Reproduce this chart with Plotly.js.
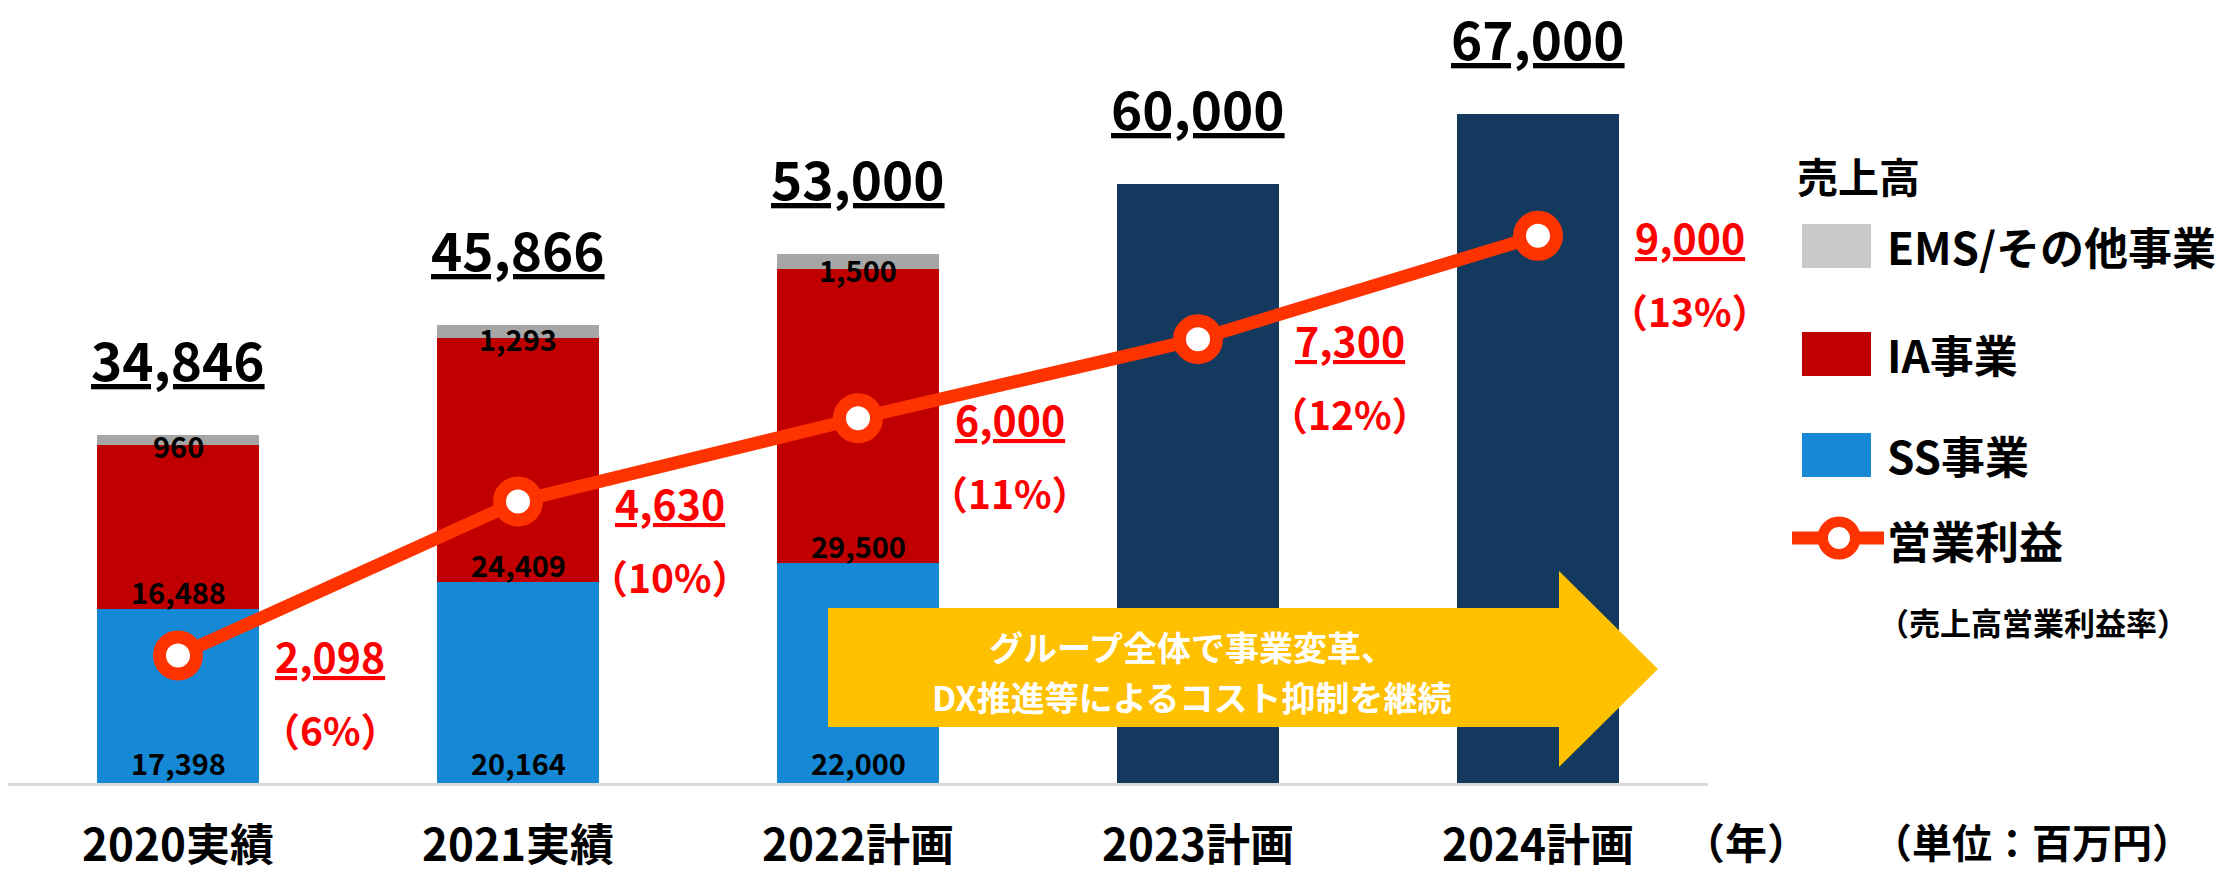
<!DOCTYPE html>
<html>
<head>
<meta charset="utf-8">
<script src="https://cdn.plot.ly/plotly-3.0.1.min.js"></script>
<style>html,body{margin:0;padding:0;background:#ffffff;}</style>
</head>
<body>
<div id="chart" style="width:2226px;height:873px;"></div>
<script>
// ---- data ----
const categories = ['2020実績', '2021実績', '2022計画', '2023計画', '2024計画'];
const ssSales = [17398, 20164, 22000, null, null];
const iaSales = [16488, 24409, 29500, null, null];
const emsSales = [960, 1293, 1500, null, null];
const planTotal = [null, null, null, 60000, 67000];
const operatingProfit = [2098, 4630, 6000, 7300, 9000];
const profitMargin = ['6%', '10%', '11%', '12%', '13%'];
const legendTitle = '売上高';
const legendNames = ['EMS/その他事業', 'IA事業', 'SS事業', '営業利益'];
const legendNote = '（売上高営業利益率）';
const arrowLines = ['グループ全体で事業変革、', 'DX推進等によるコスト抑制を継続'];
const yearUnit = '（年）';
const moneyUnit = '（単位：百万円）';

// ---- style ----
const FONT = '"Noto Sans CJK JP", "Noto Sans", sans-serif';
const C_SS = '#1589D6', C_IA = '#C00000', C_EMS = '#A6A6A6', C_PLAN = '#133A5E';
const C_LINE = '#FF3300', C_RED = '#FF0000', C_ARROW = '#FFC000';

const W = 2226, H = 873;
const M = {l: 8, r: 518, t: 33, b: 90};
const PW = W - M.l - M.r, PH = H - M.t - M.b;
const px = x => (x - M.l) / PW;          // pixel -> paper x
const py = y => (H - M.b - y) / PH;      // pixel -> paper y

const fmt = v => v.toLocaleString('en-US');
const totals = categories.map((c, i) =>
  planTotal[i] != null ? planTotal[i] : ssSales[i] + iaSales[i] + emsSales[i]);

const barW = 0.475;
const traces = [
  {type: 'bar', x: categories, y: ssSales, width: barW, marker: {color: C_SS}, hoverinfo: 'skip'},
  {type: 'bar', x: categories, y: iaSales, width: barW, marker: {color: C_IA}, hoverinfo: 'skip'},
  {type: 'bar', x: categories, y: emsSales, width: barW, marker: {color: C_EMS}, hoverinfo: 'skip'},
  {type: 'bar', x: categories, y: planTotal, width: barW, marker: {color: C_PLAN}, hoverinfo: 'skip'},
  {type: 'scatter', mode: 'lines+markers', x: categories, y: operatingProfit, yaxis: 'y2',
   line: {color: C_LINE, width: 13},
   marker: {symbol: 'circle', size: 37, color: '#FFFFFF', line: {color: C_LINE, width: 13}},
   hoverinfo: 'skip'}
];

const annotations = [];
const bold = (size, color) => ({family: FONT, size: size, color: color, weight: 700});

// segment labels
categories.forEach((c, i) => {
  if (ssSales[i] == null) return;
  annotations.push({x: c, y: 0, xref: 'x', yref: 'y', text: fmt(ssSales[i]), showarrow: false,
    yanchor: 'middle', yshift: 21, font: bold(29, '#000')});
  annotations.push({x: c, y: ssSales[i], xref: 'x', yref: 'y', text: fmt(iaSales[i]), showarrow: false,
    yanchor: 'middle', yshift: 18, font: bold(29, '#000')});
  annotations.push({x: c, y: ssSales[i] + iaSales[i], xref: 'x', yref: 'y', text: fmt(emsSales[i]), showarrow: false,
    yanchor: 'middle', yshift: 0, font: bold(29, '#000')});
});
// totals
categories.forEach((c, i) => {
  annotations.push({x: c, y: totals[i], xref: 'x', yref: 'y', text: '<u>' + fmt(totals[i]) + '</u>',
    showarrow: false, yanchor: 'middle', yshift: 77, font: bold(53, '#000')});
});
// operating profit labels
categories.forEach((c, i) => {
  annotations.push({x: c, y: operatingProfit[i], xref: 'x', yref: 'y2', text: '<u>' + fmt(operatingProfit[i]) + '</u>',
    showarrow: false, xshift: 152, yshift: 0, yanchor: 'middle', font: bold(41, C_RED)});
  annotations.push({x: c, y: operatingProfit[i], xref: 'x', yref: 'y2', text: '（' + profitMargin[i] + '）',
    showarrow: false, xshift: 152, yshift: -74, yanchor: 'middle', font: bold(39, C_RED)});
});
// arrow text
annotations.push({x: px(1192), y: py(646), xref: 'paper', yref: 'paper', text: arrowLines[0], showarrow: false,
  xanchor: 'center', yanchor: 'middle', font: bold(34, '#FFFFFF')});
annotations.push({x: px(1192), y: py(696), xref: 'paper', yref: 'paper', text: arrowLines[1], showarrow: false,
  xanchor: 'center', yanchor: 'middle', font: bold(34, '#FFFFFF')});
// legend texts
annotations.push({x: px(1795), y: py(175), xref: 'paper', yref: 'paper', text: legendTitle, showarrow: false,
  xanchor: 'left', yanchor: 'middle', font: bold(41, '#000')});
const legY = [246, 354, 455, 540];
legendNames.forEach((n, i) => {
  annotations.push({x: px(1885), y: py(legY[i]), xref: 'paper', yref: 'paper', text: n, showarrow: false,
    xanchor: 'left', yanchor: 'middle', font: bold(44, '#000')});
});
annotations.push({x: px(1876), y: py(621), xref: 'paper', yref: 'paper', text: legendNote, showarrow: false,
  xanchor: 'left', yanchor: 'middle', font: bold(31, '#000')});
// units
annotations.push({x: px(1746), y: py(841), xref: 'paper', yref: 'paper', text: yearUnit, showarrow: false,
  xanchor: 'center', yanchor: 'middle', font: bold(42, '#000')});
annotations.push({x: px(2032), y: py(841), xref: 'paper', yref: 'paper', text: moneyUnit, showarrow: false,
  xanchor: 'center', yanchor: 'middle', font: bold(40, '#000')});

// shapes: arrow + legend swatches
const arrowPath = 'M ' + px(828) + ' ' + py(608) + ' L ' + px(1559) + ' ' + py(608) +
  ' L ' + px(1559) + ' ' + py(571) + ' L ' + px(1658) + ' ' + py(669) +
  ' L ' + px(1559) + ' ' + py(767) + ' L ' + px(1559) + ' ' + py(727) +
  ' L ' + px(828) + ' ' + py(727) + ' Z';
const rect = (x0, y0, x1, y1, color) => ({type: 'rect', xref: 'paper', yref: 'paper',
  x0: px(x0), x1: px(x1), y0: py(y1), y1: py(y0), fillcolor: color, line: {width: 0}, layer: 'above'});
const shapes = [
  {type: 'path', xref: 'paper', yref: 'paper', path: arrowPath, fillcolor: C_ARROW, line: {width: 0}, layer: 'above'},
  rect(1802, 224, 1871, 268, '#C9C9C9'),
  rect(1802, 332, 1871, 376, C_IA),
  rect(1802, 433, 1871, 477, C_SS),
  {type: 'line', xref: 'paper', yref: 'paper', x0: px(1792), x1: px(1884), y0: py(538), y1: py(538),
   line: {color: C_LINE, width: 13}, layer: 'above'},
  {type: 'circle', xref: 'paper', yref: 'paper', x0: px(1839 - 16.25), x1: px(1839 + 16.25),
   y0: py(538 + 16.25), y1: py(538 - 16.25), fillcolor: '#FFFFFF', line: {color: C_LINE, width: 10.5}, layer: 'above'}
];

const layout = {
  width: W, height: H,
  margin: M,
  paper_bgcolor: '#FFFFFF', plot_bgcolor: '#FFFFFF',
  font: {family: FONT, color: '#000', weight: 700},
  barmode: 'stack',
  showlegend: false,
  xaxis: {type: 'category', range: [-0.5, 4.5], showline: true, linecolor: '#D9D9D9', linewidth: 3,
    ticks: 'outside', ticklen: 22, tickcolor: 'rgba(0,0,0,0)', showgrid: false, zeroline: false,
    tickfont: {family: FONT, size: 44, color: '#000', weight: 700}, fixedrange: true},
  yaxis: {range: [0, 75150], visible: false, showgrid: false, zeroline: false, fixedrange: true},
  yaxis2: {range: [0, 12336], overlaying: 'y', side: 'right', visible: false, showgrid: false, zeroline: false, fixedrange: true},
  annotations: annotations,
  shapes: shapes
};

Plotly.newPlot('chart', traces, layout, {displayModeBar: false, staticPlot: true});
</script>
</body>
</html>
